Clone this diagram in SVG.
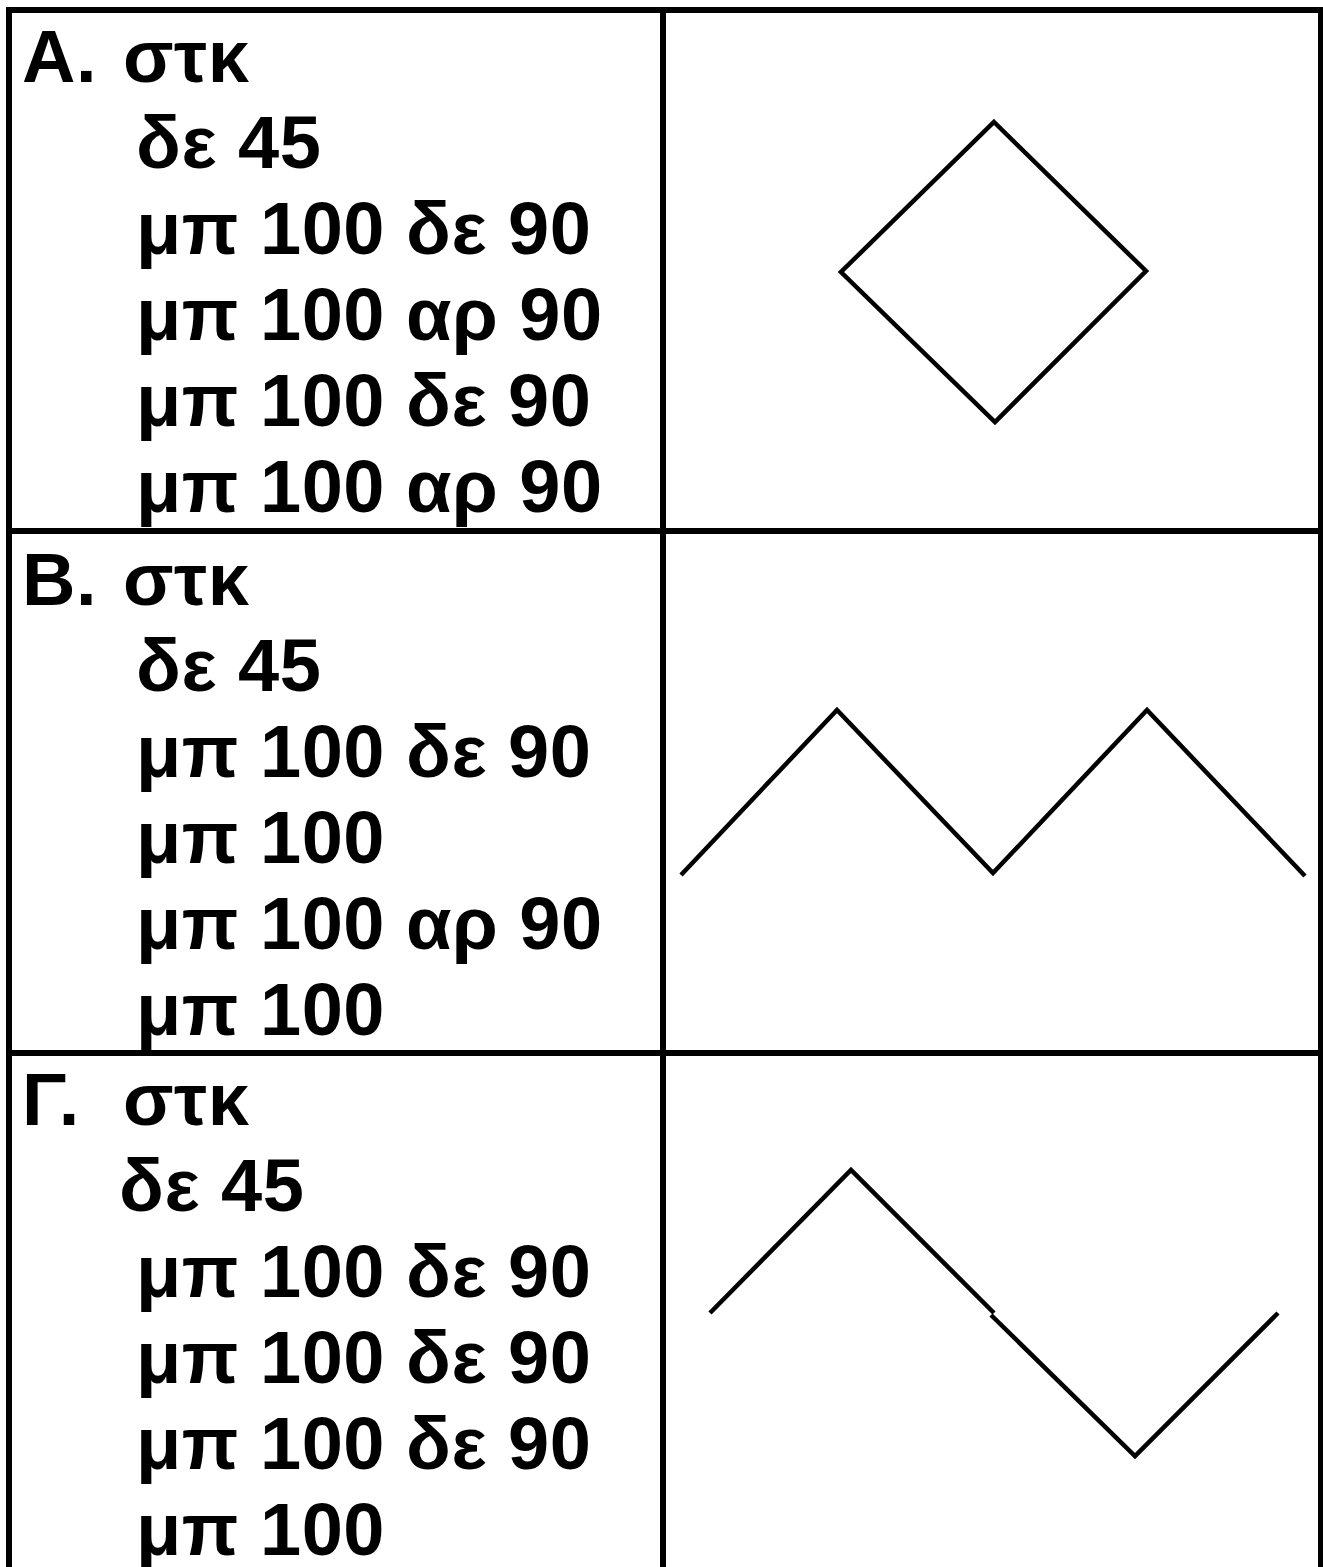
<svg xmlns="http://www.w3.org/2000/svg" width="1323" height="1567" viewBox="0 0 1323 1567">
<style>
.t{font-family:"Liberation Sans",Arial,sans-serif;font-weight:bold;font-size:74px;letter-spacing:0.5px;fill:#000}
.g{stroke:#000;stroke-width:6;fill:none}
.d{stroke:#000;stroke-width:4.5;fill:none;stroke-linejoin:miter;stroke-linecap:butt}
</style>
<rect width="1323" height="1567" fill="#fff"/>
<g id="grid">
<line class="g" x1="6" y1="10" x2="1323" y2="10"/>
<line class="g" x1="9" y1="7" x2="9" y2="1567"/>
<line class="g" x1="1321" y1="7" x2="1321" y2="1567"/>
<line class="g" x1="663" y1="10" x2="663" y2="1567"/>
<line class="g" x1="9" y1="531" x2="1321" y2="531"/>
<line class="g" x1="9" y1="1053" x2="1321" y2="1053"/>
</g>
<g id="rowA">
<text class="t" x="22" y="82">Α.</text>
<text class="t" x="123" y="82">στκ</text>
<text class="t" x="136" y="168">δε 45</text>
<text class="t" x="136" y="254">μπ 100 δε 90</text>
<text class="t" x="136" y="340">μπ 100 αρ 90</text>
<text class="t" x="136" y="426">μπ 100 δε 90</text>
<text class="t" x="136" y="512">μπ 100 αρ 90</text>
</g>
<g id="rowB">
<text class="t" x="22" y="605">Β.</text>
<text class="t" x="123" y="605">στκ</text>
<text class="t" x="136" y="691">δε 45</text>
<text class="t" x="136" y="777">μπ 100 δε 90</text>
<text class="t" x="136" y="863">μπ 100</text>
<text class="t" x="136" y="949">μπ 100 αρ 90</text>
<text class="t" x="136" y="1035">μπ 100</text>
</g>
<g id="rowC">
<text class="t" x="22" y="1125">Γ.</text>
<text class="t" x="123" y="1125">στκ</text>
<text class="t" x="119" y="1211">δε 45</text>
<text class="t" x="136" y="1297">μπ 100 δε 90</text>
<text class="t" x="136" y="1383">μπ 100 δε 90</text>
<text class="t" x="136" y="1469">μπ 100 δε 90</text>
<text class="t" x="136" y="1555">μπ 100</text>
</g>
<g id="drawings">
<polygon id="diamond" class="d" points="994,122 1146,271 995,422 841,272"/>
<polyline id="zigzagB" class="d" points="681,875 837,710 993,873 1147,710 1305,876"/>
<g id="zigzagC">
<polyline class="d" points="710,1313 851,1170 994,1313"/>
<polyline class="d" points="991,1315 1135,1456 1278,1313"/>
</g>
</g>
</svg>
